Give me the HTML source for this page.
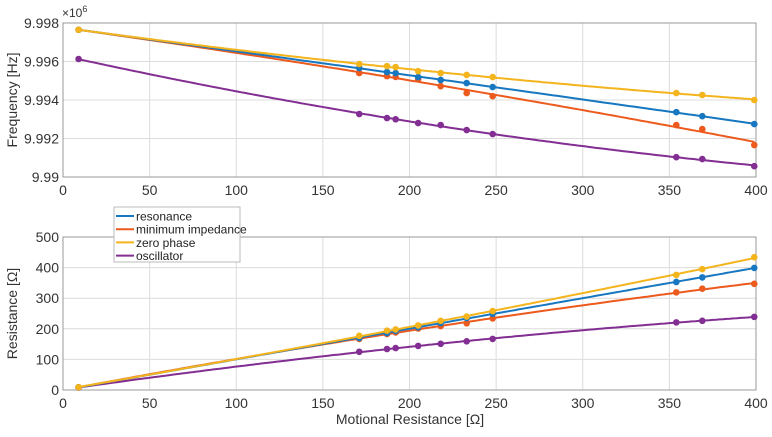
<!DOCTYPE html>
<html><head><meta charset="utf-8"><style>
body{margin:0;background:#fff;}
svg{display:block;font-family:"Liberation Sans",sans-serif;}
</style></head><body>
<svg id="chart" width="772" height="437" viewBox="0 0 772 437"></svg>
<script>
const xVals = [9,171,187,192,205,218,233,248,354,369,399];
const freqResonance = [9.99765,9.99566,9.99545,9.9954,9.99519,9.99504,9.99488,9.99467,9.99337,9.99316,9.99275];
const freqMinImp = [9.99765,9.9954,9.99524,9.9952,9.99509,9.99472,9.99436,9.9942,9.9927,9.99249,9.99166];
const freqZeroPhase = [9.99765,9.99587,9.99576,9.99571,9.9955,9.9954,9.9953,9.99519,9.99436,9.99426,9.994];
const freqOsc = [9.99613,9.99327,9.99306,9.993,9.9928,9.9927,9.99244,9.99223,9.99103,9.99093,9.99056];
const resResonance = [9,170,186,193,205,219,235,249,353,368,399];
const resMinImp = [9,167,183,188,201,209,218,234,319,331,347];
const resZeroPhase = [9,177,194,198,211,226,240,258,376,395,434];
const resOsc = [8,125,134,137,144,151,159,167,221,226,239];
const xTicks = [0,50,100,150,200,250,300,350,400];
const fTicks = [9.99,9.992,9.994,9.996,9.998];
const fTickLabels = ["9.99","9.992","9.994","9.996","9.998"];
const rTicks = [0,100,200,300,400,500];
const seriesNames = ["resonance","minimum impedance","zero phase","oscillator"];
const colors = ["#1777c0","#ec5a1e","#f3b41c","#832e93"];

const NS="http://www.w3.org/2000/svg";
const svg=document.getElementById('chart');
function mk(t,a,p){const e=document.createElementNS(NS,t);for(const k in a)e.setAttribute(k,a[k]);(p||svg).appendChild(e);return e;}
const X0=63,X1=756;
const sx=v=>X0+(v-0)/400*(X1-X0);
const topAx={y0:177,y1:23,min:9.99,max:9.998};
const botAx={y0:390,y1:237,min:0,max:500};
const syT=v=>topAx.y0+(v-topAx.min)/(topAx.max-topAx.min)*(topAx.y1-topAx.y0);
const syB=v=>botAx.y0+(v-botAx.min)/(botAx.max-botAx.min)*(botAx.y1-botAx.y0);

function polyfit(xs,ys,deg){
  const n=deg+1;const A=[];for(let i=0;i<n;i++){A.push(new Array(n+1).fill(0));}
  const m=xs.reduce((a,b)=>a+b)/xs.length;
  const ym=ys.reduce((a,b)=>a+b)/ys.length;
  for(let k=0;k<xs.length;k++){const x=xs[k]-m,y=ys[k]-ym;for(let i=0;i<n;i++){for(let j=0;j<n;j++)A[i][j]+=Math.pow(x,i+j);A[i][n]+=Math.pow(x,i)*y;}}
  for(let i=0;i<n;i++){let p=A[i][i];for(let j=i;j<=n;j++)A[i][j]/=p;for(let r=0;r<n;r++)if(r!==i){const f=A[r][i];for(let j=i;j<=n;j++)A[r][j]-=f*A[i][j];}}
  const c=A.map(r=>r[n]);
  return x=>{let s=0;for(let i=0;i<n;i++)s+=c[i]*Math.pow(x-m,i);return s+ym;};
}

function axes(name,sy,ticks,labels,ymin,ymax,ylabel){
  const g=mk('g',{});
  
  
  const ya=sy(ymax),yb=sy(ymin);
  xTicks.forEach(t=>{mk('line',{x1:sx(t),x2:sx(t),y1:ya,y2:yb,stroke:'#dcdcdc','stroke-width':1},g);
    const tx=mk('text',{x:sx(t),y:yb+18,'text-anchor':'middle','font-size':14,fill:'#333'},g);tx.textContent=t;
    
    });
  ticks.forEach((t,i)=>{mk('line',{x1:X0,x2:X1,y1:sy(t),y2:sy(t),stroke:'#dcdcdc','stroke-width':1},g);
    const tx=mk('text',{x:X0-4,y:sy(t)+5,'text-anchor':'end','font-size':14,fill:'#333'},g);tx.textContent=labels[i];
    
    });
  mk('rect',{x:X0,y:ya,width:X1-X0,height:yb-ya,fill:'none',stroke:'#999','stroke-width':1},g);
  const yl=mk('text',{x:0,y:0,'text-anchor':'middle','font-size':14,fill:'#333',transform:`translate(17,${(ya+yb)/2}) rotate(-90)`},g);
  yl.textContent=ylabel;
  
  
}
axes('frequency',syT,fTicks,fTickLabels,9.99,9.998,'Frequency [Hz]');
axes('resistance',syB,rTicks,rTicks.map(String),0,500,'Resistance [\u03A9]');
const ex=mk('text',{x:62,y:17,'font-size':12,fill:'#333'});ex.innerHTML='\u00D710<tspan dy="-5" font-size="9">6</tspan>';


const xl=mk('text',{x:410,y:424,'text-anchor':'middle','font-size':14,fill:'#333'});xl.textContent='Motional Resistance [\u03A9]';



function series(vals,sy,f,color,name){
  let d='';for(let v=xVals[0];v<=xVals[xVals.length-1]+0.01;v+=2){d+=(d?'L':'M')+sx(v).toFixed(1)+','+sy(f(v)).toFixed(1);}
  const p=mk('path',{d:d,fill:'none',stroke:color,'stroke-width':2});
  
  
  vals.forEach((v,i)=>{const c=mk('circle',{cx:sx(xVals[i]),cy:sy(v),r:3.3,fill:color});
    
    });
}
const fSets=[freqResonance,freqMinImp,freqZeroPhase,freqOsc];
const rSets=[resResonance,resMinImp,resZeroPhase,resOsc];
[3,1,0,2].forEach(i=>series(fSets[i],syT,polyfit(xVals,fSets[i],2),colors[i],'freq-'+i));
[3,1,0,2].forEach(i=>series(rSets[i],syB,polyfit(xVals,rSets[i],2),colors[i],'res-'+i));

const lg=mk('g',{});


mk('rect',{x:114,y:207,width:126,height:55,fill:'#fff',stroke:'#bbb','stroke-width':1},lg);
seriesNames.forEach((n,i)=>{const y=216+i*13.2;
  mk('line',{x1:116,x2:134,y1:y,y2:y,stroke:colors[i],'stroke-width':2},lg);
  const t=mk('text',{x:136,y:y+4.5,'font-size':12,fill:'#222'},lg);t.textContent=n;
  
  });
</script>
</body></html>
